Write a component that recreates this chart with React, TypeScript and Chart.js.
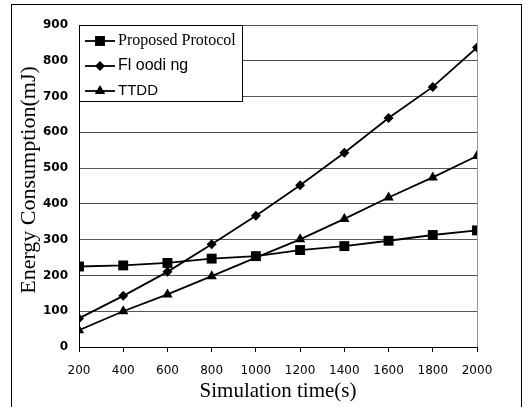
import React, { useEffect, useRef } from "react";
import { Chart, registerables } from "chart.js";

Chart.register(...registerables);

const simTimes = [200, 400, 600, 800, 1000, 1200, 1400, 1600, 1800, 2000];
const proposedProtocol = [225, 228, 235, 247, 254, 271, 282, 297, 313, 326];
const flooding = [80, 143, 210, 287, 367, 452, 543, 640, 727, 837];
const ttdd = [47, 100, 147, 198, 250, 301, 358, 418, 474, 534];
const seriesLabels = ["Proposed Protocol", "Fl oodi ng", "TTDD"];
const seriesShapes = ["rect", "rectRot", "triangle"];
const seriesRadii = [7, 5, 6];
const legendFonts = ['16px "Liberation Serif"', '16px "Liberation Sans"', '15px "Liberation Sans"'];
const yTicks = [0, 100, 200, 300, 400, 500, 600, 700, 800, 900];
const yTitle = "Energy Consumption(mJ)";
const xTitle = "Simulation time(s)";

function drawMarker(ctx: CanvasRenderingContext2D, shape: string, r: number, x: number, y: number) {
  ctx.beginPath();
  if (shape === "rect") {
    const s = Math.SQRT1_2 * r;
    ctx.rect(x - s, y - s, 2 * s, 2 * s);
  } else if (shape === "rectRot") {
    ctx.moveTo(x, y - r);
    ctx.lineTo(x + r, y);
    ctx.lineTo(x, y + r);
    ctx.lineTo(x - r, y);
    ctx.closePath();
  } else {
    let rad = 0;
    ctx.moveTo(x + Math.sin(rad) * r, y - Math.cos(rad) * r);
    rad += (2 * Math.PI) / 3;
    ctx.lineTo(x + Math.sin(rad) * r, y - Math.cos(rad) * r);
    rad += (2 * Math.PI) / 3;
    ctx.lineTo(x + Math.sin(rad) * r, y - Math.cos(rad) * r);
    ctx.closePath();
  }
  ctx.fill();
}

const framePlugin = {
  id: "frameAndLegend",
  beforeDraw(chart: any) {
    const ctx = chart.ctx;
    ctx.save();
    ctx.fillStyle = "#fff";
    ctx.fillRect(0, 0, chart.width, chart.height);
    ctx.strokeStyle = "#000";
    ctx.lineWidth = 1;
    ctx.strokeRect(11.5, 4.5, 510, 420);
    ctx.restore();
  },
  afterDatasetsDraw(chart: any) {
    const ctx = chart.ctx;
    const a = chart.chartArea;
    ctx.save();
    ctx.strokeStyle = "#999";
    ctx.lineWidth = 1;
    ctx.beginPath();
    ctx.moveTo(Math.round(a.right) + 0.5, a.top);
    ctx.lineTo(Math.round(a.right) + 0.5, a.bottom);
    ctx.stroke();
    // y title
    ctx.save();
    ctx.translate(29, 180);
    ctx.rotate(-Math.PI / 2);
    ctx.fillStyle = "#000";
    ctx.font = '22px "Liberation Serif"';
    ctx.textAlign = "center";
    ctx.textBaseline = "middle";
    ctx.fillText(yTitle, 0, 0);
    ctx.restore();
    // legend
    const bx = a.left, by = a.top, bw = 163, bh = 76;
    ctx.fillStyle = "#fff";
    ctx.fillRect(bx, by, bw, bh);
    ctx.strokeStyle = "#000";
    ctx.strokeRect(bx + 0.5, by + 0.5, bw, bh);
    const rows = [41, 66, 91];
    chart.data.datasets.forEach((ds: any, i: number) => {
      const y = rows[i];
      ctx.strokeStyle = "#000";
      ctx.lineWidth = 1.8;
      ctx.beginPath();
      ctx.moveTo(85, y);
      ctx.lineTo(115, y);
      ctx.stroke();
      ctx.fillStyle = "#000";
      drawMarker(ctx, seriesShapes[i], seriesRadii[i], 100, y);
      ctx.font = legendFonts[i];
      ctx.textBaseline = "middle";
      ctx.textAlign = "left";
      ctx.fillText(ds.label, 118, y);
    });
    ctx.restore();
  },
};

export default function App() {
  const ref = useRef<HTMLCanvasElement>(null);
  useEffect(() => {
    const seriesValues = [proposedProtocol, flooding, ttdd];
    const chart = new Chart(ref.current!, {
      type: "line",
      data: {
        datasets: seriesValues.map((vals, i) => ({
          label: seriesLabels[i],
          data: simTimes.map((t, j) => ({ x: t, y: vals[j] })),
          borderColor: "#000",
          backgroundColor: "#000",
          borderWidth: 1.8,
          pointStyle: seriesShapes[i] as any,
          pointRadius: seriesRadii[i],
          pointBackgroundColor: "#000",
          pointBorderColor: "#000",
          pointBorderWidth: 0,
          tension: 0,
        })),
      },
      options: {
        responsive: false,
        animation: false,
        events: [],
        layout: { padding: { left: 0, top: 25, right: 49, bottom: 0 } },
        plugins: { legend: { display: false }, tooltip: { enabled: false } },
        scales: {
          x: {
            type: "linear",
            min: 200,
            max: 2000,
            afterBuildTicks: (s: any) => {
              s.ticks = simTimes.map((v) => ({ value: v }));
            },
            afterFit: (s: any) => {
              s.height = 60;
            },
            grid: { drawOnChartArea: false, drawTicks: true, tickLength: 5, color: "#000" },
            border: { color: "#000", width: 1 },
            ticks: {
              color: "#000",
              font: { family: '"DejaVu Sans"', size: 12 },
              padding: 12,
              maxRotation: 0,
              autoSkip: false,
              callback: (v: any) => String(v),
            },
            title: {
              display: true,
              text: xTitle,
              color: "#000",
              font: { family: '"Liberation Serif"', size: 21 },
              padding: { top: 0, bottom: 3 },
            },
          },
          y: {
            min: 0,
            max: 900,
            afterBuildTicks: (s: any) => {
              s.ticks = yTicks.map((v) => ({ value: v }));
            },
            afterFit: (s: any) => {
              s.width = 79;
            },
            grid: { drawTicks: false, color: "#555", lineWidth: 1 },
            border: { color: "#000", width: 1 },
            ticks: {
              color: "#000",
              font: { family: '"DejaVu Sans"', size: 12, weight: "bold" },
              padding: 11,
              callback: (v: any) => String(v),
            },
          },
        },
      },
      plugins: [framePlugin],
    } as any);
    return () => chart.destroy();
  }, []);
  return (
    <div style={{ position: "fixed", left: 0, top: 0, width: 526, height: 407, background: "#fff" }}>
      <canvas ref={ref} width={526} height={407} style={{ display: "block" }} />
    </div>
  );
}
